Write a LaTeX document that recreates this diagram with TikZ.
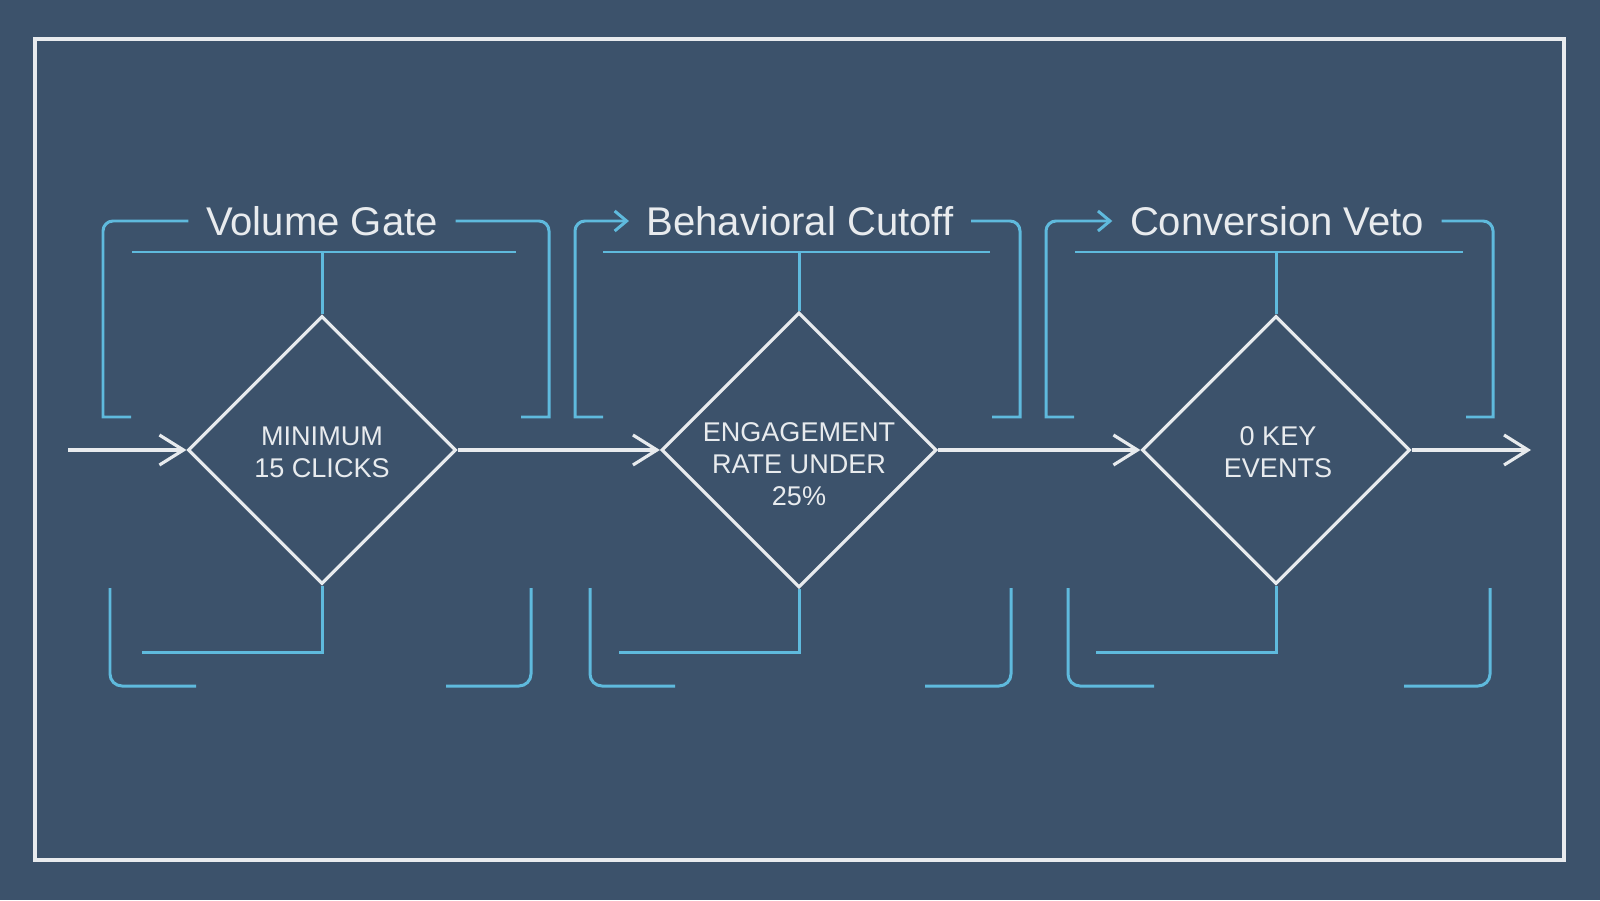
\documentclass[tikz,border=0pt]{standalone}
\usepackage{fontspec}
\setmainfont{Liberation Sans}
\usetikzlibrary{arrows.meta,shapes.geometric,positioning}

\definecolor{slate}{HTML}{3C526B}
\definecolor{chalk}{HTML}{E8EBEE}
\definecolor{cyanline}{HTML}{5FBADD}

\tikzset{
  gate/.style={draw=chalk, line width=0.9pt, diamond, shape aspect=1, minimum size=2.68cm, inner sep=0pt},
  cond/.style={text=chalk, font=\fontsize{7.7}{9.1}\selectfont, align=center, inner sep=0pt},
  stage/.style={text=chalk, font=\fontsize{11.4}{13}\selectfont, inner xsep=0.17cm, inner ysep=0pt},
  flow/.style={draw=chalk, line width=0.9pt, -{Straight Barb[length=0.24cm,width=0.3cm]}},
  bline/.style={draw=cyanline, line width=0.85pt},
  barrow/.style={bline, -{Straight Barb[length=0.12cm,width=0.2cm]}}
}

\begin{document}
\begin{tikzpicture}
  \fill[slate] (0,0) rectangle (16,9);
  \draw[chalk, line width=1pt] (0.35,0.40) rectangle (15.64,8.61);

  % gates
  \node[gate] (d1) at (3.22,4.5) {};
  \node[gate, minimum size=2.75cm] (d2) at (7.99,4.5) {};
  \node[gate] (d3) at (12.76,4.5) {};

  \node[cond] (c1) at (3.22,4.48) {MINIMUM\\15 CLICKS};
  \node[cond] (c2) at (7.99,4.36) {ENGAGEMENT\\RATE UNDER\\25\%};
  \node[cond] (c3) at (12.78,4.48) {0 KEY\\EVENTS};

  \node[stage] (t1) at (3.22,6.79) {Volume Gate};
  \node[stage] (t2) at (8.00,6.79) {Behavioral Cutoff};
  \node[stage] (t3) at (12.77,6.79) {Conversion Veto};

  \coordinate (in) at (0.68,4.5);
  \coordinate (out) at (15.31,4.5);
  \coordinate (tb1) at (3.22,6.48);
  \coordinate (tb2) at (7.99,6.48);
  \coordinate (tb3) at (12.76,6.48);

  \draw[flow] (in) -- (d1.west);
  \draw[flow] (d1.east) -- (d2.west);
  \draw[flow] (d2.east) -- (d3.west);
  \draw[flow] (d3.east) -- (out);

  % volume gate
  \draw[bline] (t1.west) -- (1.13,6.79) arc[start angle=90,end angle=180,radius=0.1cm] -- (1.03,4.83) -- (1.31,4.83);
  \draw[bline] (t1.east) -- (5.39,6.79) arc[start angle=90,end angle=0,radius=0.1cm] -- (5.49,4.83) -- (5.21,4.83);
  \draw[bline] (1.32,6.48) -- (5.16,6.48);
  \draw[bline] (tb1) -- (d1.north);
  \draw[bline] (d1.south) |- (1.42,2.48);
  \draw[bline, rounded corners=0.12cm] (1.10,3.12) |- (1.96,2.14);
  \draw[bline, rounded corners=0.12cm] (4.46,2.14) -| (5.31,3.12);

  % behavioral cutoff
  \draw[barrow] (6.03,4.83) -- (5.75,4.83) -- (5.75,6.69) arc[start angle=180,end angle=90,radius=0.1cm] -- (t2.west);
  \draw[bline] (t2.east) -- (10.10,6.79) arc[start angle=90,end angle=0,radius=0.1cm] -- (10.20,4.83) -- (9.92,4.83);
  \draw[bline] (6.03,6.48) -- (9.90,6.48);
  \draw[bline] (tb2) -- (d2.north);
  \draw[bline] (d2.south) |- (6.19,2.48);
  \draw[bline, rounded corners=0.12cm] (5.90,3.12) |- (6.75,2.14);
  \draw[bline, rounded corners=0.12cm] (9.25,2.14) -| (10.11,3.12);

  % conversion veto
  \draw[barrow] (10.74,4.83) -- (10.46,4.83) -- (10.46,6.69) arc[start angle=180,end angle=90,radius=0.1cm] -- (t3.west);
  \draw[bline] (t3.east) -- (14.83,6.79) arc[start angle=90,end angle=0,radius=0.1cm] -- (14.93,4.83) -- (14.66,4.83);
  \draw[bline] (10.75,6.48) -- (14.63,6.48);
  \draw[bline] (tb3) -- (d3.north);
  \draw[bline] (d3.south) |- (10.96,2.48);
  \draw[bline, rounded corners=0.12cm] (10.68,3.12) |- (11.54,2.14);
  \draw[bline, rounded corners=0.12cm] (14.04,2.14) -| (14.90,3.12);
\end{tikzpicture}
\end{document}
